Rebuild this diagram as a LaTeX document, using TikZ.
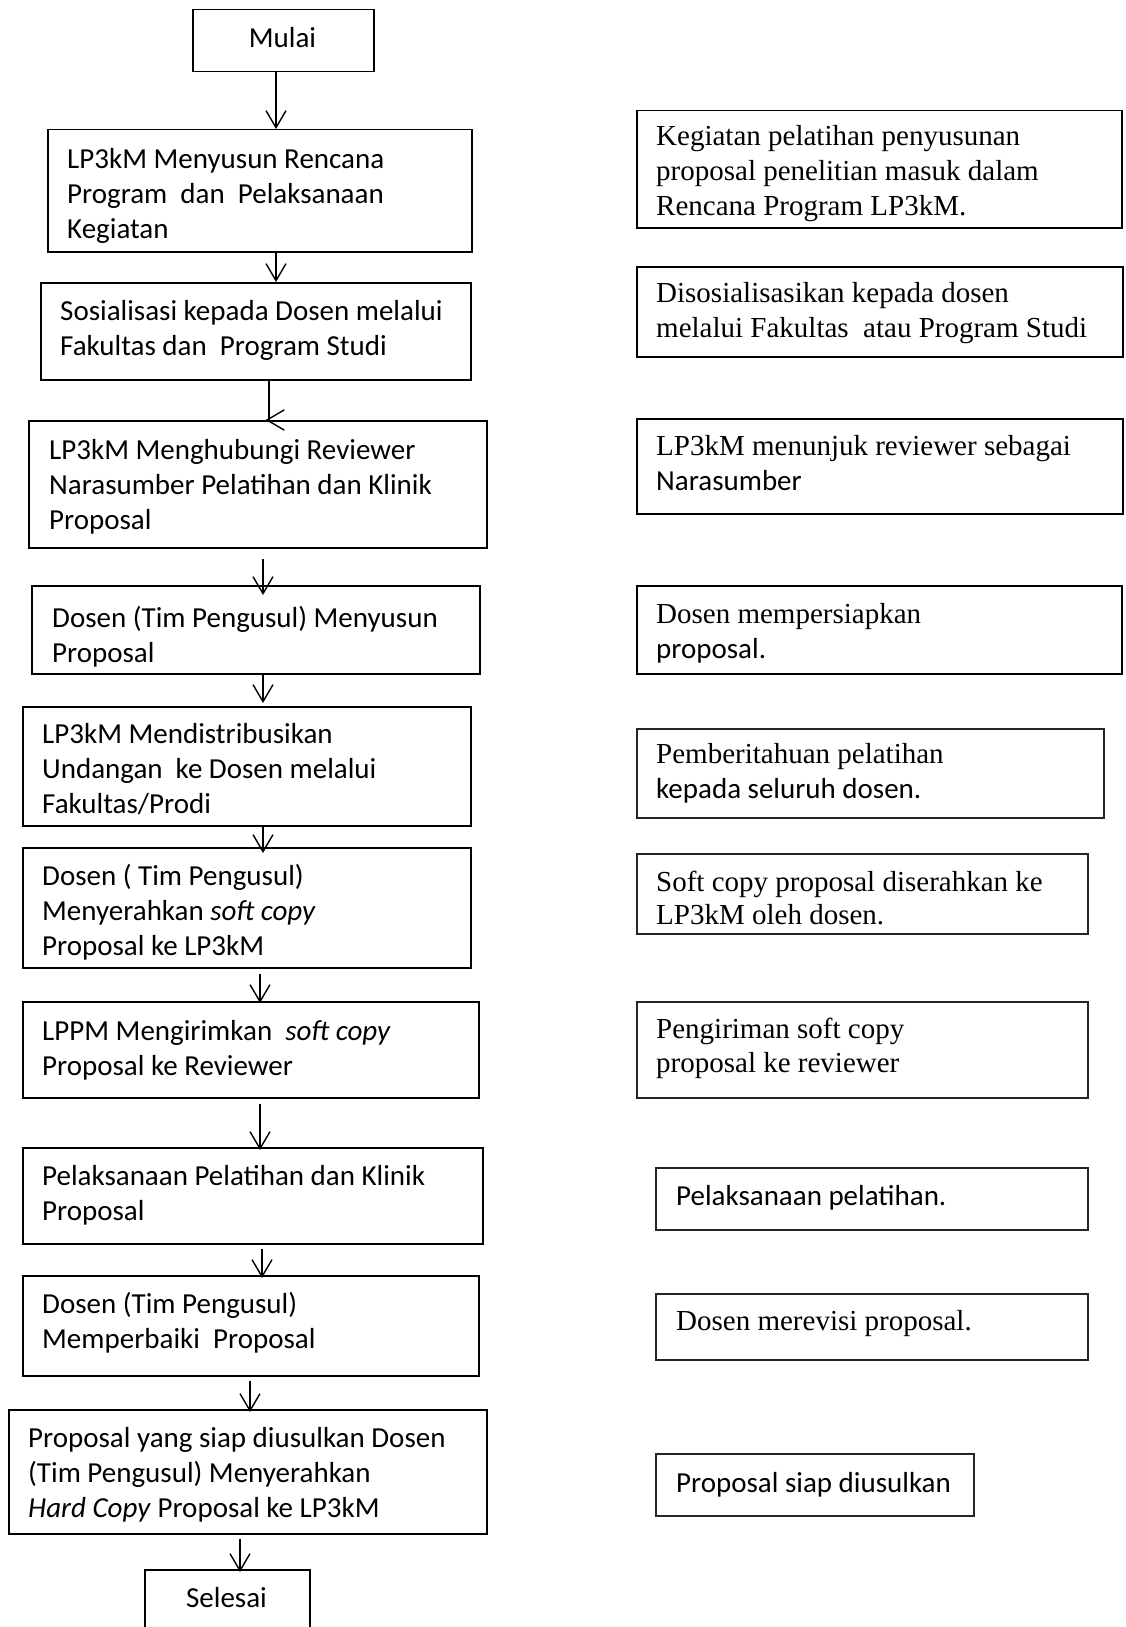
\documentclass[tikz,border=0pt]{standalone}
\usepackage{fontspec}
\setmainfont{Carlito}
\newfontfamily\tnr{Liberation Serif}
\usetikzlibrary{arrows.meta,calc}

\begin{document}
\begin{tikzpicture}[x=1pt,y=-1pt,
  box/.style={draw, line width=1.5pt, anchor=north west, inner sep=0pt},
  rbox/.style={box, draw=black!85},
  % multi-line text is placed by the baseline of its last line
  txt/.style={anchor=base west, align=left, inner sep=0pt, font=\fontsize{29}{35}\selectfont},
  ctxt/.style={anchor=base, inner sep=0pt, font=\fontsize{29}{35}\selectfont},
  flow/.style={line width=1.4pt, -{Straight Barb[length=17pt,width=20pt,line width=1.4pt]}},
  link/.style={line width=1.4pt}
]
\clip (0,0) rectangle (1125,1627);
\path[use as bounding box] (0,0) rectangle (1125,1627);

% ---- left column: process steps ----
\node[box, minimum width=181pt, minimum height=62pt] (start) at (192,9) {};
\node[ctxt] (tstart) at (282.5,48) {Mulai};

\node[box, minimum width=424pt, minimum height=122pt] (b1) at (47,129) {};
\node[txt] (t1) at (67,238) {LP3kM Menyusun Rencana\\Program\ \ dan\ \ Pelaksanaan\\Kegiatan};

\node[box, minimum width=430pt, minimum height=97pt] (b2) at (40,282) {};
\node[txt] (t2) at (60,355) {Sosialisasi kepada Dosen melalui\\Fakultas dan\ \ Program Studi};

\node[box, minimum width=458pt, minimum height=127pt] (b3) at (28,420) {};
\node[txt] (t3) at (49,529) {LP3kM Menghubungi Reviewer\\Narasumber Pelatihan dan Klinik\\Proposal};

\node[box, minimum width=448pt, minimum height=88pt] (b4) at (31,585) {};
\node[txt] (t4) at (52,662) {Dosen (Tim Pengusul) Menyusun\\Proposal};

\node[box, minimum width=448pt, minimum height=119pt] (b5) at (22,706) {};
\node[txt] (t5) at (42,813) {LP3kM Mendistribusikan\\Undangan\ \ ke Dosen melalui\\Fakultas/Prodi};

\node[box, minimum width=448pt, minimum height=120pt] (b6) at (22,847) {};
\node[txt] (t6) at (42,955) {Dosen ( Tim Pengusul)\\Menyerahkan \textit{soft copy}\\Proposal ke LP3kM};

\node[box, minimum width=456pt, minimum height=96pt] (b7) at (22,1001) {};
\node[txt] (t7) at (42,1075) {LPPM Mengirimkan\ \ \textit{soft copy}\\Proposal ke Reviewer};

\node[box, minimum width=460pt, minimum height=96pt] (b8) at (22,1147) {};
\node[txt] (t8) at (42,1220) {Pelaksanaan Pelatihan dan Klinik\\Proposal};

\node[box, minimum width=456pt, minimum height=100pt] (b9) at (22,1275) {};
\node[txt] (t9) at (42,1348) {Dosen (Tim Pengusul)\\Memperbaiki\ \ Proposal};

\node[box, minimum width=478pt, minimum height=124pt] (b10) at (8,1409) {};
\node[txt] (t10) at (28,1517) {Proposal yang siap diusulkan Dosen\\(Tim Pengusul) Menyerahkan\\\textit{Hard Copy} Proposal ke LP3kM};

\node[box, minimum width=165pt, minimum height=80pt] (end) at (144,1569) {};
\node[ctxt] (tend) at (226.5,1607) {Selesai};

% ---- connectors ----
\draw[flow] ($(start.south west)+(84,0)$) -- ($(b1.north west)+(229,0)$);
\draw[flow] ($(b1.south west)+(229,0)$) -- ($(b2.north west)+(236,0)$);
\coordinate (h2) at ($(b3.north west)+(241,0)$);
\draw[link] ($(b2.south west)+(229,0)$) -- (h2);
\draw[link, line cap=round] ($(h2)+(15,-10)$) -- ($(h2)+(-2,0)$) -- ($(h2)+(15,10)$);
\draw[flow] ($(b3.south west)+(235,10)$) -- ($(b4.north west)+(232,10)$);
\draw[flow] ($(b4.south west)+(232,0)$) -- ($(b5.north west)+(241,-3)$);
\draw[flow] ($(b5.south west)+(241,0)$) -- ($(b6.north west)+(241,6)$);
\draw[flow] ($(b6.south west)+(238,5)$) -- ($(b7.north west)+(238,2)$);
\draw[flow] ($(b7.south west)+(238,5)$) -- ($(b8.north west)+(238,3)$);
\draw[flow] ($(b8.south west)+(240,4)$) -- ($(b9.north west)+(240,3)$);
\draw[flow] ($(b9.south west)+(228,4)$) -- ($(b10.north west)+(242,3)$);
\draw[flow] ($(b10.south west)+(232,4)$) -- ($(end.north west)+(96,3)$);

% ---- right column: descriptions ----
\node[box, minimum width=485pt, minimum height=117pt] (r1) at (636,110) {};
\node[txt] (s1) at (656,215) {{\tnr Kegiatan pelatihan penyusunan}\\{\tnr proposal penelitian masuk dalam}\\{\tnr Rencana Program LP3kM.}};

\node[box, minimum width=486pt, minimum height=90pt] (r2) at (636,266) {};
\node[txt] (s2) at (656,337) {{\tnr Disosialisasikan kepada dosen}\\{\tnr melalui Fakultas\ \ atau Program Studi}};

\node[box, minimum width=486pt, minimum height=95pt] (r3) at (636,418) {};
\node[txt] (s3) at (656,490) {{\tnr LP3kM menunjuk reviewer sebagai}\\Narasumber};

\node[box, minimum width=485pt, minimum height=88pt] (r4) at (636,585) {};
\node[txt] (s4) at (656,658) {{\tnr Dosen mempersiapkan}\\proposal.};

\node[rbox, minimum width=467pt, minimum height=89pt] (r5) at (636,728) {};
\node[txt] (s5) at (656,798) {{\tnr Pemberitahuan pelatihan}\\kepada seluruh dosen.};

\node[rbox, minimum width=451pt, minimum height=80pt] (r6) at (636,853) {};
\node[txt] (s6) at (656,924) {{\tnr Soft copy proposal diserahkan ke}\\[-2pt]{\tnr LP3kM oleh dosen.}};

\node[rbox, minimum width=451pt, minimum height=96pt] (r7) at (636,1001) {};
\node[txt] (s7) at (656,1072) {{\tnr Pengiriman soft copy}\\[-1pt]{\tnr proposal ke reviewer}};

\node[rbox, minimum width=432pt, minimum height=62pt] (r8) at (655,1167) {};
\node[txt] (s8) at (676,1205) {Pelaksanaan pelatihan.};

\node[rbox, minimum width=432pt, minimum height=66pt] (r9) at (655,1293) {};
\node[txt] (s9) at (676,1330) {{\tnr Dosen merevisi proposal.}};

\node[rbox, minimum width=318pt, minimum height=62pt] (r10) at (655,1453) {};
\node[txt] (s10) at (676,1492) {Proposal siap diusulkan};
\end{tikzpicture}
\end{document}
